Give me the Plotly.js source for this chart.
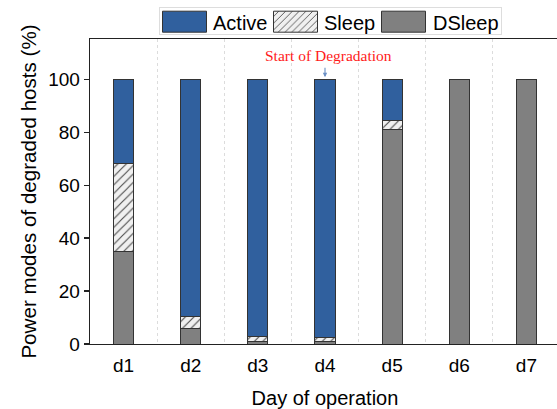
<!DOCTYPE html>
<html>
<head>
<meta charset="utf-8">
<script src="https://cdn.plot.ly/plotly-3.0.1.min.js"></script>
<style>
  html, body { margin: 0; padding: 0; overflow: hidden; background: #fff; }
  #chart { width: 566px; height: 409px; }
</style>
</head>
<body>
<div id="chart"></div>
<script>
// Share of degraded hosts in each power mode, per day (%)
const days = ['d1', 'd2', 'd3', 'd4', 'd5', 'd6', 'd7'];
const deepSleep = [35, 6, 1, 1, 81, 100, 100];
const sleep     = [33, 4.5, 2, 1.5, 3.5, 0, 0];
const active    = [32, 89.5, 97, 97.5, 15.5, 0, 0];

const degradationDay = 'd4';
const degradationLabel = 'Start of Degradation';

const edge = { color: '#333333', width: 1 };

const traces = [
  {
    type: 'bar', name: 'DSleep', x: days, y: deepSleep, width: 0.3,
    marker: { color: '#808080', line: edge }
  },
  {
    type: 'bar', name: 'Sleep', x: days, y: sleep, width: 0.3,
    marker: {
      color: '#f0f0f0', line: edge,
      pattern: { shape: '/', fgcolor: '#4a4a4a', bgcolor: '#f0f0f0', size: 6, solidity: 0.18 }
    }
  },
  {
    type: 'bar', name: 'Active', x: days, y: active, width: 0.3,
    marker: { color: '#30609e', line: edge }
  }
];

const axisLine = '#222222';

const layout = {
  width: 566, height: 409,
  margin: { l: 90, r: 6, t: 39, b: 65 },
  paper_bgcolor: '#ffffff', plot_bgcolor: '#ffffff',
  font: { family: 'Liberation Sans, Arial, sans-serif', color: '#000', size: 19 },
  barmode: 'stack',
  showlegend: true,
  legend: {
    orientation: 'h', traceorder: 'reversed',
    x: 0.147, xanchor: 'left', y: 1.105, yanchor: 'top',
    bgcolor: '#ffffff', bordercolor: '#dddddd', borderwidth: 1,
    font: { size: 20 }, itemwidth: 50, itemclick: false
  },
  xaxis: {
    type: 'category', tickson: 'boundaries', ticks: '',
    showgrid: true, gridcolor: '#dcdcdc', gridwidth: 1, griddash: '3px,3px',
    showline: true, linecolor: axisLine, linewidth: 1.3, mirror: true,
    zeroline: false, tickfont: { size: 19 }, ticklabelstandoff: 4,
    title: { text: 'Day of operation', font: { size: 20 } }
  },
  yaxis: {
    range: [0, 115.2], dtick: 20, ticks: 'outside', ticklen: 5, tickwidth: 1.3, tickcolor: axisLine,
    showgrid: false, zeroline: false,
    showline: true, linecolor: axisLine, linewidth: 1.3, mirror: true,
    tickfont: { size: 19 },
    title: { text: 'Power modes of degraded hosts (%)', font: { size: 20.6 }, standoff: 6 }
  },
  annotations: [
    {
      x: degradationDay, y: 100, xref: 'x', yref: 'y',
      text: '', showarrow: true, ax: 0, ay: -13,
      arrowhead: 2, arrowsize: 0.8, arrowwidth: 1.1, arrowcolor: '#6a8fc4', standoff: 2
    },
    {
      x: degradationDay, y: 100, xref: 'x', yref: 'y',
      text: degradationLabel, showarrow: false, xshift: 3, yshift: 24,
      font: { family: 'Liberation Serif, Times New Roman, serif', size: 15.5, color: '#ff1a1a' }
    }
  ]
};

// Legend geometry (page pixels): framed box, swatch and label left edges per entry
const legendBox = { left: 159.5, top: 7.5, width: 342, height: 27 };
const legendMid = 21.7;
const legendSlots = {
  Active: { swatch: 162.5, text: 213 },
  Sleep:  { swatch: 273.5, text: 324 },
  DSleep: { swatch: 381.5, text: 433 }
};

function readTranslate(el) {
  const m = /translate\(\s*([-\d.e]+)[\s,]*([-\d.e]+)?\s*\)/.exec(el.getAttribute('transform') || '');
  return m ? [parseFloat(m[1]), m[2] ? parseFloat(m[2]) : 0] : [0, 0];
}

function arrangeLegend(gd) {
  const leg = gd.querySelector('.legend');
  if (!leg) return;
  const scroll = leg.querySelector('.scrollbox');
  if (scroll) scroll.removeAttribute('clip-path');

  leg.querySelectorAll('.traces').forEach(function (g) {
    const label = g.querySelector('.legendtext');
    const slot = legendSlots[label.textContent];
    if (!slot) return;
    const path = g.querySelector('.legendpoints path');
    path.setAttribute('d', 'M-22,-10.5H22V10.5H-22Z');
    const pr = path.getBoundingClientRect();
    const t = readTranslate(g);
    g.setAttribute('transform', 'translate(' + (t[0] + slot.swatch - pr.left) + ',' +
      (t[1] + legendMid - (pr.top + pr.height / 2)) + ')');
    const lr = label.getBoundingClientRect();
    label.setAttribute('x', parseFloat(label.getAttribute('x') || 0) + slot.text - lr.left);
  });

  const bg = leg.querySelector('rect.bg');
  if (bg) {
    const br = bg.getBoundingClientRect();
    bg.setAttribute('x', parseFloat(bg.getAttribute('x') || 0) + legendBox.left - br.left);
    bg.setAttribute('y', parseFloat(bg.getAttribute('y') || 0) + legendBox.top - br.top);
    bg.setAttribute('width', legendBox.width);
    bg.setAttribute('height', legendBox.height);
  }
}

Plotly.newPlot('chart', traces, layout, { staticPlot: true, displayModeBar: false })
  .then(arrangeLegend);
</script>
</body>
</html>
